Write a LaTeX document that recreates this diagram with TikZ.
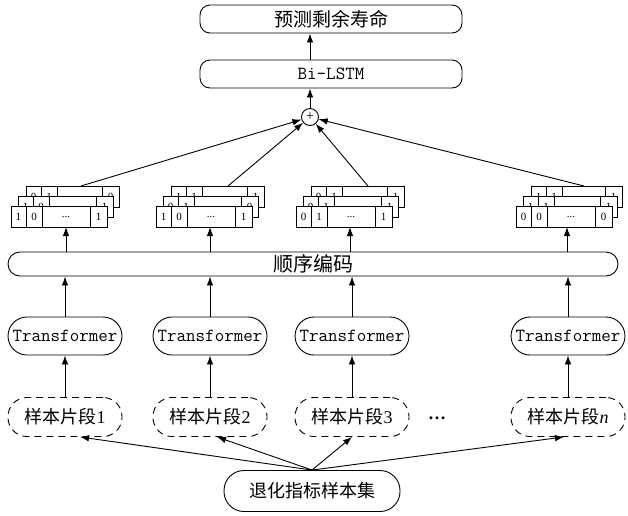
\documentclass[tikz,border=0pt]{standalone}
\usepackage{fontspec}
\setmainfont{Liberation Serif}
\newfontfamily\cjk{Noto Sans CJK SC}
\usetikzlibrary{arrows.meta}
% #1 x, #2 y, #3..#6 cell texts, #7 name prefix, #8 width
\newcommand\vecrow[8]{%
  \draw[fill=white] (#1,#2) rectangle ++(#8,21);
  \draw (#1+15,#2) -- ++(0,21) (#1+31,#2) -- ++(0,21) (#1+#8-17,#2) -- ++(0,21);
  \node[cell] (#7a) at (#1+7.5,#2+10.5) {#3};
  \node[cell] (#7b) at (#1+23,#2+10.5) {#4};
  \node[cell] (#7c) at (#1+#8/2+7,#2+10.5) {#5};
  \node[cell] (#7d) at (#1+#8-8.5,#2+10.5) {#6};
}
\begin{document}
\begin{tikzpicture}[x=1pt,y=-1pt, line width=0.9pt,
  arr/.style={-{Latex[length=9pt,width=6.5pt]}},
  rbox/.style={draw, rounded corners=10pt, minimum width=262pt, minimum height=28pt, inner sep=0pt, font=\fontsize{19}{21}\selectfont},
  tbox/.style={draw, rounded corners=19pt, minimum width=114pt, minimum height=38pt, inner sep=0pt, font=\ttfamily\fontsize{18.5}{20}\selectfont},
  dbox/.style={draw, dash pattern=on 7pt off 5pt, rounded corners=19pt, minimum width=114pt, minimum height=39pt, inner sep=0pt, font=\fontsize{18}{20}\selectfont},
  cell/.style={inner sep=0pt, font=\fontsize{11}{12}\selectfont},
]
\useasboundingbox (0,0) rectangle (628,515);

% top part
\node[rbox] (rul) at (331,19) {\cjk 预测剩余寿命};
\node[rbox, font=\ttfamily\fontsize{18.5}{20}\selectfont] (lstm) at (331,74) {Bi-LSTM};
\node[draw, circle, minimum size=17pt, inner sep=0pt, font=\fontsize{14}{14}\selectfont] (plus) at (310,117) {+};

% stacks
\vecrow{26}{186}{0}{1}{}{0}{s1b}{93}
\vecrow{18}{196}{1}{0}{}{1}{s1m}{95}
\vecrow{11}{206}{1}{0}{...}{1}{s1f}{96}
\vecrow{171}{186}{1}{1}{}{1}{s2b}{93}
\vecrow{163}{196}{0}{1}{}{0}{s2m}{95}
\vecrow{156}{206}{1}{0}{...}{1}{s2f}{96}
\vecrow{311}{186}{0}{1}{}{1}{s3b}{93}
\vecrow{303}{196}{0}{1}{}{1}{s3m}{95}
\vecrow{296}{206}{0}{1}{...}{1}{s3f}{96}
\vecrow{531}{186}{1}{1}{}{1}{s4b}{91}
\vecrow{523}{196}{1}{1}{}{1}{s4m}{94}
\vecrow{516}{206}{0}{0}{...}{0}{s4f}{96}

\coordinate (s1top) at (81,186);
\coordinate (s2top) at (228,186);
\coordinate (s3top) at (368,186);
\coordinate (s4top) at (584,186);
\coordinate (s1bot) at (66,227);
\coordinate (s2bot) at (210,227);
\coordinate (s3bot) at (350,227);
\coordinate (s4bot) at (567,227);

% encoding bar
\node[draw, rounded corners=12pt, minimum width=610pt, minimum height=24pt, inner sep=0pt, font=\fontsize{20}{21}\selectfont] (enc) at (313,264) {\cjk 顺序编码};

% transformers
\node[tbox] (T1) at (65,336) {Transformer};
\node[tbox] (T2) at (210,336) {Transformer};
\node[tbox] (T3) at (352,336) {Transformer};
\node[tbox] (T4) at (568,336) {Transformer};

% segments
\node[dbox] (S1) at (65,417) {{\cjk 样本片段}1};
\node[dbox] (S2) at (210,417) {{\cjk 样本片段}2};
\node[dbox] (S3) at (352,417) {{\cjk 样本片段}3};
\node[dbox] (S4) at (568,417) {{\cjk 样本片段}\textit{n}};
\node[font=\bfseries\fontsize{18}{18}\selectfont, inner sep=0pt] (dots) at (437,418) {…};

% bottom
\node[draw, rounded corners=20pt, minimum width=176pt, minimum height=41pt, inner sep=0pt, font=\fontsize{18}{20}\selectfont] (bot) at (312,491) {\cjk 退化指标样本集};

% connectors
\draw[arr] (lstm.north -| plus.north) -- (rul.south -| plus.north);
\draw[arr] (plus.north) -- (plus.north |- lstm.south);
\foreach \i in {1,2,3,4}{
  \draw[arr] (s\i top) -- (plus);
  \draw[arr] (enc.north -| s\i bot) -- (s\i bot);
  \draw[arr] (T\i.north) -- (T\i.north |- enc.south);
  \draw[arr] (S\i.north) -- (T\i.south);
}
\draw[arr] (bot.north) -- ([xshift=15pt]S1.south);
\draw[arr] (bot.north) -- ([xshift=7pt]S2.south);
\draw[arr] (bot.north) -- (S3.south);
\draw[arr] (bot.north) -- ([xshift=-4pt]S4.south);
\end{tikzpicture}
\end{document}
